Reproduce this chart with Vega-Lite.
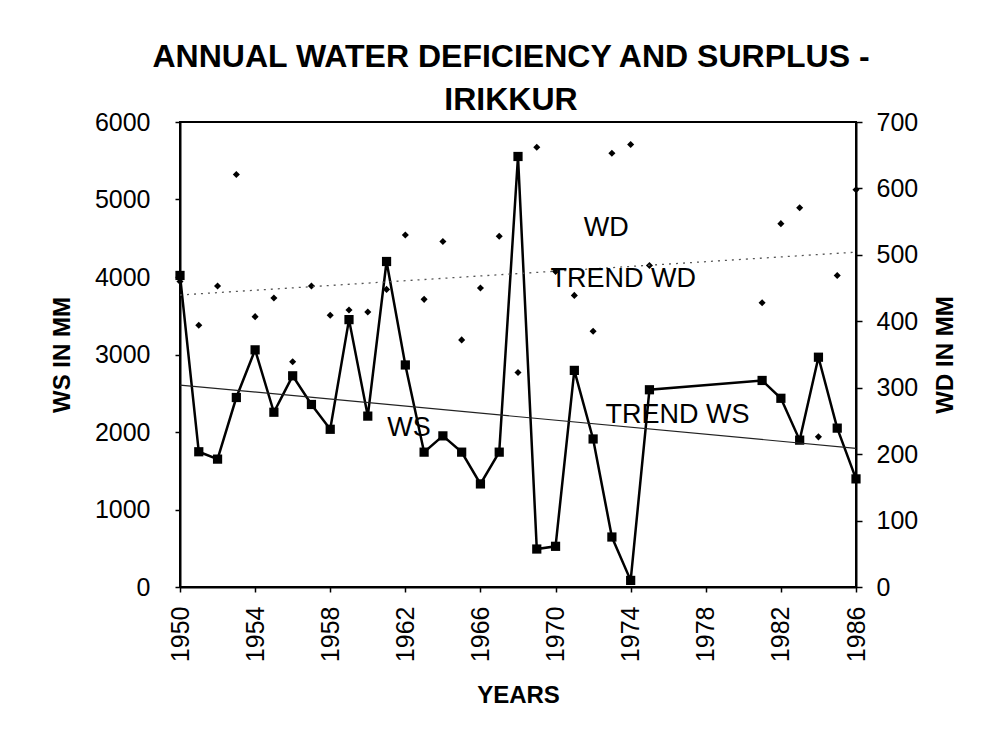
{
  "$schema": "https://vega.github.io/schema/vega-lite/v6.json",
  "width": 676,
  "height": 465,
  "autosize": "none",
  "padding": {"left": 180, "top": 122, "right": 149, "bottom": 161},
  "background": "white",
  "title": {
    "text": ["ANNUAL WATER DEFICIENCY AND SURPLUS -", "IRIKKUR"],
    "font": "Liberation Sans",
    "fontSize": 32,
    "fontWeight": "bold",
    "color": "black",
    "lineHeight": 43,
    "offset": -7,
    "dx": -7
  },
  "config": {
    "font": "Liberation Sans",
    "view": {"stroke": "black", "strokeWidth": 2},
    "axis": {
      "labelFont": "Liberation Sans",
      "labelFontSize": 25,
      "labelColor": "black",
      "titleFont": "Liberation Sans",
      "titleFontSize": 24,
      "titleFontWeight": "bold",
      "titleColor": "black",
      "grid": false,
      "domainColor": "black",
      "domainWidth": 2,
      "tickColor": "black",
      "tickWidth": 1.5
    }
  },
  "datasets": {
    "main": [
      {"year": 1950, "WS": 4020, "WD": 460},
      {"year": 1951, "WS": 1745, "WD": 394},
      {"year": 1952, "WS": 1650, "WD": 453},
      {"year": 1953, "WS": 2445, "WD": 621},
      {"year": 1954, "WS": 3060, "WD": 407},
      {"year": 1955, "WS": 2255, "WD": 435},
      {"year": 1956, "WS": 2725, "WD": 339},
      {"year": 1957, "WS": 2355, "WD": 453},
      {"year": 1958, "WS": 2035, "WD": 409},
      {"year": 1959, "WS": 3450, "WD": 417},
      {"year": 1960, "WS": 2205, "WD": 414},
      {"year": 1961, "WS": 4200, "WD": 448},
      {"year": 1962, "WS": 2865, "WD": 530},
      {"year": 1963, "WS": 1740, "WD": 433},
      {"year": 1964, "WS": 1950, "WD": 520},
      {"year": 1965, "WS": 1740, "WD": 372},
      {"year": 1966, "WS": 1330, "WD": 450},
      {"year": 1967, "WS": 1740, "WD": 528},
      {"year": 1968, "WS": 5555, "WD": 323},
      {"year": 1969, "WS": 490, "WD": 662},
      {"year": 1970, "WS": 525, "WD": 475},
      {"year": 1971, "WS": 2795, "WD": 439},
      {"year": 1972, "WS": 1910, "WD": 385},
      {"year": 1973, "WS": 645, "WD": 653},
      {"year": 1974, "WS": 85, "WD": 666},
      {"year": 1975, "WS": 2545, "WD": 484},
      {"year": 1981, "WS": 2665, "WD": 428},
      {"year": 1982, "WS": 2435, "WD": 547},
      {"year": 1983, "WS": 1895, "WD": 571},
      {"year": 1984, "WS": 2965, "WD": 226},
      {"year": 1985, "WS": 2050, "WD": 469},
      {"year": 1986, "WS": 1395, "WD": 598}
    ],
    "ws_labels": [
      {"year": 1962.2, "WS": 2052, "label": "WS"},
      {"year": 1976.5, "WS": 2220, "label": "TREND WS"}
    ],
    "wd_labels": [
      {"year": 1972.7, "WD": 540, "label": "WD"},
      {"year": 1973.6, "WD": 463, "label": "TREND WD"}
    ]
  },
  "layer": [
    {
      "encoding": {
        "x": {
          "field": "year",
          "type": "quantitative",
          "scale": {"domain": [1950, 1986], "nice": false, "zero": false},
          "axis": {
            "values": [1950,1951,1952,1953,1954,1955,1956,1957,1958,1959,1960,1961,1962,1963,1964,1965,1966,1967,1968,1969,1970,1971,1972,1973,1974,1975,1976,1977,1978,1979,1980,1981,1982,1983,1984,1985,1986],
            "format": "d",
            "labelExpr": "(datum.value - 1950) % 4 == 0 ? datum.label : ''",
            "labelAngle": -90,
            "labelFlush": false,
            "labelOverlap": false,
            "tickSize": 5,
            "labelPadding": 14,
            "title": "YEARS",
            "titlePadding": 22
          }
        },
        "y": {
          "field": "WS",
          "type": "quantitative",
          "scale": {"domain": [0, 6000], "nice": false},
          "axis": {
            "orient": "left",
            "values": [0, 1000, 2000, 3000, 4000, 5000, 6000],
            "format": "d",
            "tickSize": 5,
            "labelPadding": 25,
            "title": "WS IN MM",
            "titlePadding": 20
          }
        }
      },
      "layer": [
        {
          "data": {"name": "main"},
          "mark": {"type": "line", "color": "black", "strokeWidth": 2.5}
        },
        {
          "data": {"name": "main"},
          "mark": {"type": "point", "shape": "square", "filled": true, "color": "black", "size": 85, "opacity": 1}
        },
        {
          "data": {"name": "main"},
          "transform": [{"regression": "WS", "on": "year"}],
          "mark": {"type": "line", "color": "#222222", "strokeWidth": 1.2}
        },
        {
          "data": {"name": "ws_labels"},
          "mark": {"type": "text", "font": "Liberation Sans", "fontSize": 27, "color": "black", "align": "center", "baseline": "middle"},
          "encoding": {"text": {"field": "label"}}
        }
      ]
    },
    {
      "encoding": {
        "x": {"field": "year", "type": "quantitative"},
        "y": {
          "field": "WD",
          "type": "quantitative",
          "scale": {"domain": [0, 700], "nice": false},
          "axis": {
            "orient": "right",
            "values": [0, 100, 200, 300, 400, 500, 600, 700],
            "format": "d",
            "tickSize": 6,
            "labelPadding": 14,
            "title": "WD IN MM",
            "titleAngle": -90,
            "titlePadding": 40
          }
        }
      },
      "layer": [
        {
          "data": {"name": "main"},
          "mark": {"type": "point", "shape": "diamond", "filled": true, "color": "black", "size": 50, "opacity": 1}
        },
        {
          "data": {"name": "main"},
          "transform": [{"regression": "WD", "on": "year"}],
          "mark": {"type": "line", "color": "#555555", "strokeWidth": 1.3, "strokeDash": [2, 5]}
        },
        {
          "data": {"name": "wd_labels"},
          "mark": {"type": "text", "font": "Liberation Sans", "fontSize": 27, "color": "black", "align": "center", "baseline": "middle"},
          "encoding": {"text": {"field": "label"}}
        }
      ]
    }
  ],
  "resolve": {"scale": {"y": "independent"}}
}
